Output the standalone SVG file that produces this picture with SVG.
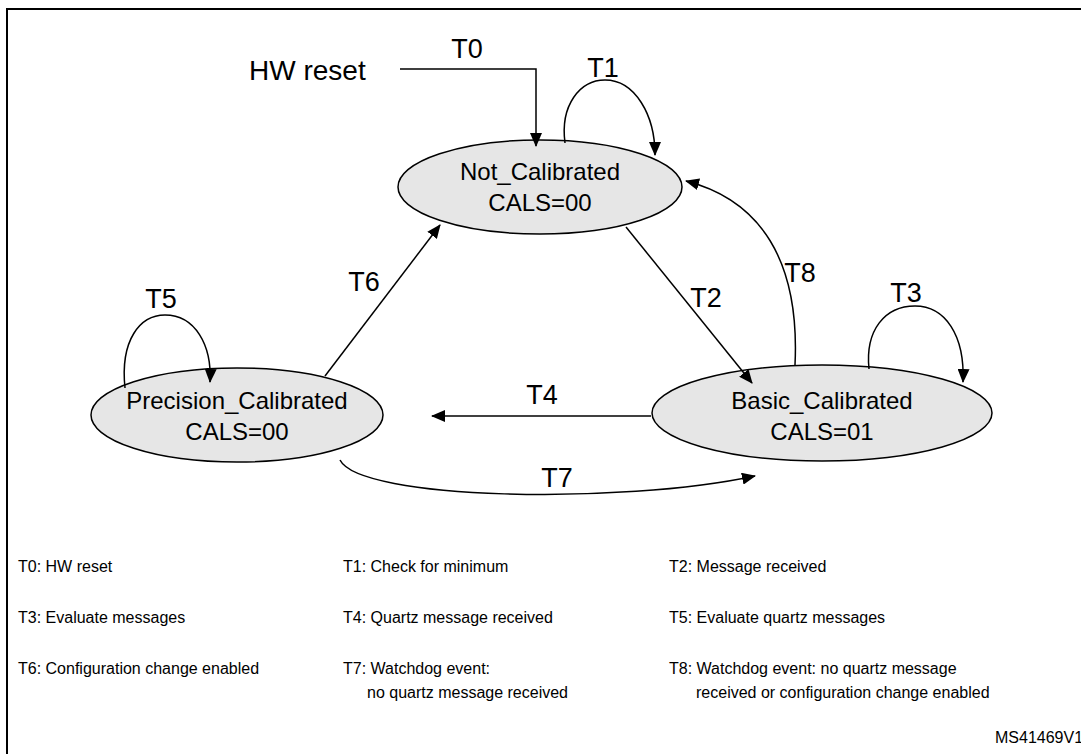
<svg xmlns="http://www.w3.org/2000/svg" width="1081" height="754" viewBox="0 0 1081 754">
<defs>
<marker id="a" markerWidth="14" markerHeight="12" refX="13" refY="6" orient="auto" markerUnits="userSpaceOnUse"><path d="M0,0 L14,6 L0,12 Z" fill="#000"/></marker>
<style>
.st{fill:#e6e6e6;stroke:#000;stroke-width:1.5}
.lb{font-family:"Liberation Sans",Arial,sans-serif;font-size:24px;text-anchor:middle}
.tl{font-family:"Liberation Sans",Arial,sans-serif;font-size:27px;text-anchor:middle}
.t{font-family:"Liberation Sans",Arial,sans-serif;font-size:28px}
.lg{font-family:"Liberation Sans",Arial,sans-serif;font-size:16px}
.c{fill:none;stroke:#000;stroke-width:1.5;marker-end:url(#a)}
</style>
</defs>
<rect x="0" y="0" width="1081" height="754" fill="#fff"/>
<rect x="7" y="9" width="1090" height="760" fill="none" stroke="#000" stroke-width="2"/>
<g id="not_calibrated"><ellipse class="st" cx="540" cy="187" rx="142" ry="47"/><text class="lb" x="540" y="180">Not_Calibrated</text><text class="lb" x="540" y="211">CALS=00</text></g>
<g id="precision_calibrated"><ellipse class="st" cx="237" cy="415" rx="146" ry="47"/><text class="lb" x="237" y="409">Precision_Calibrated</text><text class="lb" x="237" y="440">CALS=00</text></g>
<g id="basic_calibrated"><ellipse class="st" cx="822" cy="413" rx="170" ry="48"/><text class="lb" x="822" y="409">Basic_Calibrated</text><text class="lb" x="822" y="440">CALS=01</text></g>
<g id="connectors">
<path class="c" d="M400,69 H536 V146"/>
<path class="c" d="M565,143 C560,105 580,80 605,80 C635,80 655,115 655,155"/>
<path class="c" d="M626,227 L752,383"/>
<path class="c" d="M795,365 C800,260 760,200 686,181"/>
<path class="c" d="M869,369 C865,330 885,306 915,306 C945,306 965,335 963,382"/>
<path class="c" d="M651,416 H432"/>
<path class="c" d="M125,388 C120,340 140,315 165,315 C195,315 212,345 210,382"/>
<path class="c" d="M325,376 L440,225"/>
<path class="c" d="M340,460 C360,500 620,505 755,476"/>
</g>
<g id="labels">
<text class="t" x="249" y="80">HW reset</text>
<text class="tl" x="467" y="58">T0</text>
<text class="tl" x="603" y="77">T1</text>
<text class="tl" x="706" y="307">T2</text>
<text class="tl" x="800" y="282">T8</text>
<text class="tl" x="906" y="302">T3</text>
<text class="tl" x="542" y="404">T4</text>
<text class="tl" x="161" y="308">T5</text>
<text class="tl" x="364" y="291">T6</text>
<text class="tl" x="557" y="487">T7</text>
</g>
<g id="legend">
<text class="lg" x="18" y="572">T0: HW reset</text>
<text class="lg" x="18" y="623">T3: Evaluate messages</text>
<text class="lg" x="18" y="674">T6: Configuration change enabled</text>
<text class="lg" x="343" y="572">T1: Check for minimum</text>
<text class="lg" x="343" y="623">T4: Quartz message received</text>
<text class="lg" x="343" y="674">T7: Watchdog event:</text>
<text class="lg" x="367" y="698">no quartz message received</text>
<text class="lg" x="669" y="572">T2: Message received</text>
<text class="lg" x="669" y="623">T5: Evaluate quartz messages</text>
<text class="lg" x="669" y="674">T8: Watchdog event: no quartz message</text>
<text class="lg" x="696" y="698">received or configuration change enabled</text>
<text class="lg" x="995" y="743" font-size="14">MS41469V1</text>
</g>
</svg>
